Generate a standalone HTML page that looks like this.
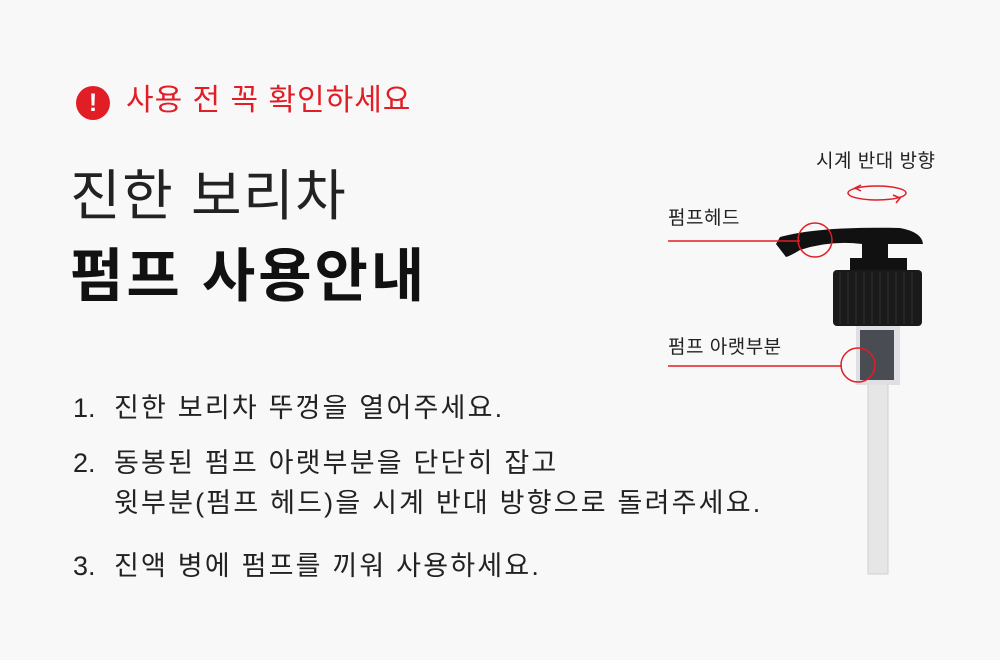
<!DOCTYPE html>
<html><head><meta charset="utf-8"><style>
body{margin:0;width:1000px;height:660px;background:#f8f8f8;font-family:"Liberation Sans","Noto Sans CJK KR",sans-serif;position:relative;overflow:hidden;color:#111}
.a{position:absolute;white-space:nowrap}
.b{font-size:27px;line-height:40px;color:#222;letter-spacing:2.2px}
.n{font-size:27px;line-height:40px;color:#222}
.l{font-size:19px;line-height:26px;color:#222;letter-spacing:0.5px}
</style></head><body>
<div class="a" style="left:76px;top:86px;width:34px;height:34px;border-radius:50%;background:#e11d26;color:#fff;font-weight:bold;font-size:25px;text-align:center;line-height:34px">!</div>
<div class="a" style="left:126px;top:79px;font-size:30px;letter-spacing:1px;color:#e11d26;line-height:44px">사용 전 꼭 확인하세요</div>
<div class="a" style="left:70px;top:161px;font-size:55px;letter-spacing:1.5px;line-height:70px;color:#222">진한 보리차</div>
<div class="a" style="left:70px;top:242px;font-size:58px;letter-spacing:3px;line-height:70px;font-weight:bold;color:#111">펌프 사용안내</div>
<div class="a n" style="left:73px;top:388px">1.</div>
<div class="a b" style="left:114px;top:388px">진한 보리차 뚜껑을 열어주세요.</div>
<div class="a n" style="left:73px;top:443px">2.</div>
<div class="a b" style="left:114px;top:443px">동봉된 펌프 아랫부분을 단단히 잡고</div>
<div class="a b" style="left:114px;top:483px">윗부분(펌프 헤드)을 시계 반대 방향으로 돌려주세요.</div>
<div class="a n" style="left:73px;top:546px">3.</div>
<div class="a b" style="left:114px;top:546px">진액 병에 펌프를 끼워 사용하세요.</div>
<div class="a l" style="left:816px;top:149px">시계 반대 방향</div>
<div class="a l" style="left:668px;top:206px">펌프헤드</div>
<div class="a l" style="left:668px;top:335px">펌프 아랫부분</div>
<svg class="a" style="left:0;top:0" width="1000" height="660">
<rect x="868" y="370" width="20" height="204" fill="#e6e6e6" stroke="#cfcfcf"/>
<rect x="856" y="325" width="44" height="60" fill="#e0e0e4"/>
<rect x="860" y="330" width="34" height="50" fill="#4a4c54"/>
<path d="M776 244 L780 237 Q820 226 900 228 Q922 232 923 244 L888 244 L888 258 L862 258 L862 244 Q830 240 800 250 Q790 256 786 257 Z" fill="#111"/>
<rect x="850" y="258" width="57" height="14" fill="#111"/>
<rect x="833" y="270" width="89" height="56" rx="4" fill="#1a1a1a"/>
<g stroke="#333" stroke-width="1">
<line x1="840" y1="272" x2="840" y2="324"/><line x1="848" y1="272" x2="848" y2="324"/><line x1="856" y1="272" x2="856" y2="324"/><line x1="864" y1="272" x2="864" y2="324"/><line x1="872" y1="272" x2="872" y2="324"/><line x1="880" y1="272" x2="880" y2="324"/><line x1="888" y1="272" x2="888" y2="324"/><line x1="896" y1="272" x2="896" y2="324"/><line x1="904" y1="272" x2="904" y2="324"/><line x1="912" y1="272" x2="912" y2="324"/></g>
<g stroke="#e11d26" stroke-width="1.5" fill="none">
<line x1="668" y1="241" x2="800" y2="241"/>
<circle cx="815" cy="240" r="17"/>
<line x1="668" y1="366" x2="842" y2="366"/>
<circle cx="858" cy="365" r="17"/>
<ellipse cx="877" cy="193" rx="29" ry="7"/>
<path d="M861 185 L855 188 L861 191"/>
<path d="M893 195 L900 198 L896 203"/>
</g>
</svg>
</body></html>
